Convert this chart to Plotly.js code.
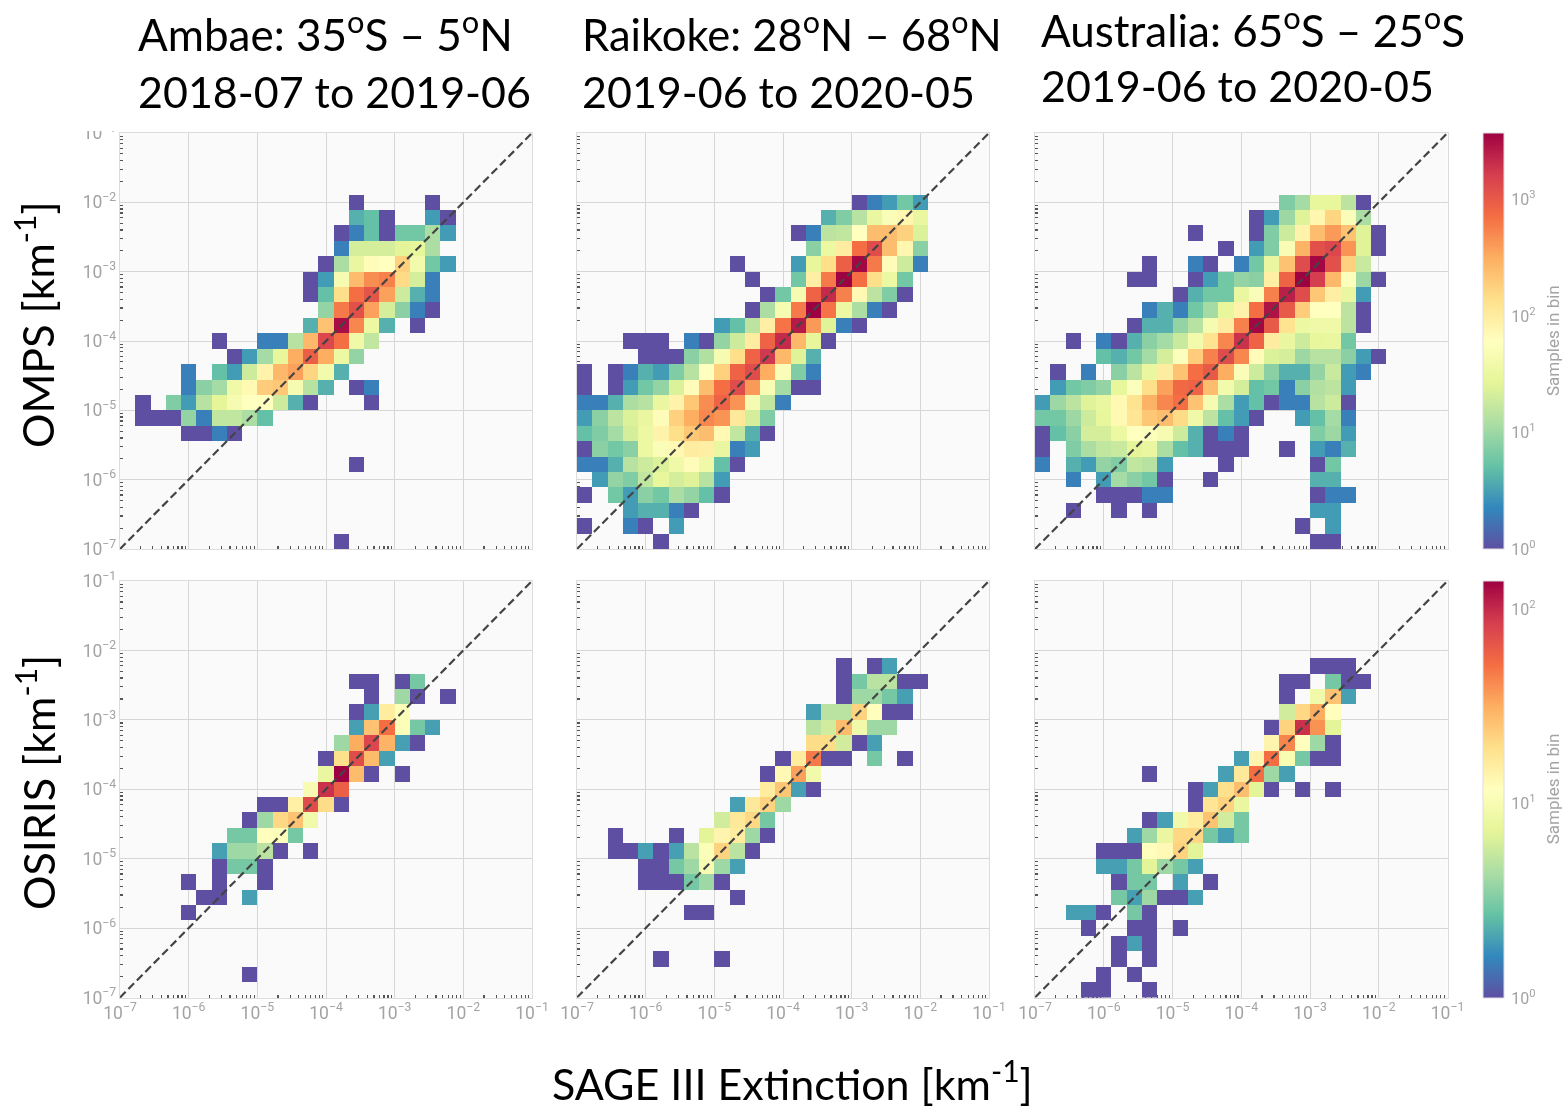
<!DOCTYPE html>
<html>
<head>
<meta charset="utf-8">
<script src="https://cdn.plot.ly/plotly-3.0.1.min.js"></script>
<style>html,body{margin:0;padding:0;background:#fff}#chart{width:1564px;height:1109px}
.cartesianlayer,.colorbar{filter:blur(0.5px)}</style>
</head>
<body>
<div id="chart"></div>
<script>
// Samples per bin, top row of bins first; each row maps bin column -> count
const ambaeOmps = [{},{},{},{},
{15:1,20:1},
{15:4,16:5,17:1,20:3,21:1},
{14:1,15:2,16:5,17:1,18:6,19:6,20:12,21:3},
{14:2,15:21,16:21,17:21,18:26,19:29,20:12},
{13:1,14:12,15:32,16:66,17:61,18:178,19:40,20:6,21:3},
{12:1,13:3,14:44,15:250,16:480,17:560,18:150,19:21,20:2},
{12:1,13:5,14:139,15:720,16:1090,17:372,18:19,19:4,20:2},
{13:9,14:610,15:1180,16:372,17:21,18:8,19:2,20:1},
{12:4,13:228,14:3170,15:517,16:33,17:4,19:1},
{6:1,9:2,10:2,11:14,12:268,13:1390,14:720,15:37,16:16},
{7:1,8:3,9:11,10:29,11:316,12:920,13:316,14:34,15:9},
{4:2,6:5,7:3,8:19,9:85,10:268,11:372,12:164,13:40,14:4},
{4:2,5:8,6:11,7:37,8:72,9:193,10:206,11:44,12:14,13:4,15:1,16:2},
{1:1,3:7,4:3,5:14,6:27,7:44,8:61,9:61,10:19,11:4,12:1,16:1},
{1:1,2:1,3:1,4:9,5:2,6:16,7:16,8:12,9:5},
{4:1,5:1,6:2,7:1},
{},
{15:1},
{},{},{},{},
{14:1}];

const raikokeOmps = [{},{},{},{},
{18:1,19:2,20:3,21:6,22:3},
{16:4,17:7,18:14,19:32,20:52,21:78,22:32},
{14:1,15:2,16:15,17:16,18:61,19:247,20:247,21:178,22:23},
{15:8,16:34,17:100,18:720,19:1280,20:247,21:78,22:8},
{10:1,14:3,15:29,16:139,17:920,18:3440,19:610,20:66,21:19,22:2},
{11:1,14:6,15:92,16:610,17:3700,18:720,19:139,20:34,21:6},
{12:1,13:6,14:44,15:848,16:2100,17:560,18:72,19:15,20:7,21:1},
{11:1,12:12,13:44,14:610,15:3700,16:662,17:34,18:12,19:2,20:1},
{9:3,10:5,11:15,12:92,13:662,14:2690,15:404,16:25,17:2,18:1},
{3:1,4:1,5:1,7:2,8:1,9:9,10:19,11:100,12:848,13:2100,14:268,15:29,16:1},
{4:1,5:1,6:1,7:8,8:13,9:44,10:139,11:848,12:1780,13:268,14:25,15:4},
{0:1,2:1,3:2,4:4,5:3,6:7,7:14,8:61,9:178,10:848,11:1280,12:316,13:52,14:7,15:2},
{0:1,2:1,3:3,4:6,5:9,6:23,7:66,8:247,9:720,10:1280,11:404,12:48,13:11,14:1,15:1},
{0:2,1:2,2:4,3:12,4:14,5:32,6:85,7:210,8:476,9:848,10:439,11:44,12:16,13:2},
{0:3,1:8,2:15,3:23,4:32,5:66,6:178,7:316,8:517,9:439,10:108,11:21,12:7},
{0:5,1:7,2:11,3:21,4:34,5:85,6:139,7:210,8:247,9:72,10:16,11:4,12:1},
{0:1,1:8,2:6,3:8,4:34,5:52,6:72,7:100,8:92,9:32,10:2,11:3},
{0:2,1:2,2:4,3:14,4:19,5:23,6:37,7:66,8:37,9:5,10:1},
{1:3,2:9,3:7,4:16,5:29,6:21,7:25,8:14,9:3},
{0:1,2:6,3:3,4:8,5:6,6:12,7:9,8:5,9:1},
{3:3,4:4,5:4,6:2,7:1},
{0:1,3:2,4:1,6:3},
{5:1}];

const australiaOmps = [{},{},{},{},
{16:7,17:11,18:29,19:29,20:15,21:1},
{14:1,15:3,16:10,17:25,18:78,19:164,20:52,21:12},
{10:1,14:1,15:7,16:19,17:85,18:247,19:404,20:228,21:25,22:1},
{12:1,14:3,15:7,16:48,17:291,18:1180,19:1390,20:439,21:25,22:1},
{7:1,10:2,11:1,13:2,14:6,15:32,16:228,17:1280,18:3440,19:1180,20:178,21:18},
{6:1,7:1,10:1,11:3,12:6,13:9,14:8,15:92,16:848,17:3700,18:1640,19:268,20:56,21:10,22:1},
{9:1,10:4,11:6,12:6,13:32,14:52,15:560,16:2470,17:1280,18:210,19:92,20:32,21:3},
{7:2,8:4,9:2,10:6,11:11,12:29,13:85,14:720,15:2920,16:1000,17:193,18:61,19:61,20:15,21:1},
{6:1,7:4,8:4,9:9,10:14,11:44,12:100,13:560,14:3440,15:1000,16:128,17:34,18:37,19:37,20:15,21:1},
{2:1,4:2,5:1,6:4,7:8,8:11,9:18,10:40,11:128,12:517,13:1930,14:848,15:100,16:32,17:19,18:29,19:32,20:6},
{4:5,5:4,6:6,7:11,8:21,9:56,10:193,11:560,12:1280,13:517,14:66,15:23,16:21,17:10,18:14,19:14,20:8,21:3,22:1},
{1:1,3:2,5:8,6:15,7:32,8:100,9:228,10:720,11:1000,12:316,13:52,14:19,15:8,16:4,17:4,18:9,19:18,20:3,21:2},
{1:3,2:6,3:7,4:9,5:29,6:56,7:139,8:372,9:780,10:848,11:247,12:40,13:21,14:5,15:6,16:2,17:8,18:13,19:15,20:3},
{0:3,1:10,2:15,3:25,4:32,5:72,6:128,7:291,8:517,9:720,10:228,11:44,12:12,13:3,14:5,15:1,16:2,17:2,18:14,19:19,20:1},
{0:6,1:6,2:10,3:19,4:29,5:72,6:118,7:210,8:247,9:151,10:37,11:15,12:5,13:3,14:1,17:3,18:5,19:11,20:2},
{0:1,1:5,2:8,3:21,4:21,5:34,6:61,7:56,8:44,9:19,10:4,11:1,12:2,13:1,18:7,19:10,20:3},
{0:1,2:7,3:12,4:16,5:18,6:27,7:32,8:12,9:5,10:4,11:1,12:1,13:1,16:1,18:3,19:2,20:4},
{0:2,2:4,3:3,4:9,5:7,6:16,7:14,8:3,12:1,18:1,19:6},
{2:2,4:3,5:11,6:8,7:6,8:1,11:1,18:4,19:4},
{4:1,5:1,6:1,7:2,8:2,18:1,19:2,20:2},
{2:1,5:1,7:1,18:3,19:3},
{17:1,19:3},
{18:1,19:1}];

const ambaeOsiris = [{},{},{},{},{},{},
{15:1,16:1,18:1,19:3},
{16:1,18:4,19:1,21:1},
{15:1,16:2,17:16,18:11},
{15:2,16:26,17:52,18:11,19:3,20:2},
{14:4,15:32,16:77,17:30,18:2,19:1},
{13:1,14:19,15:73,16:28,17:2},
{13:8,14:139,15:28,16:1,18:1},
{12:10,13:94,14:60},
{9:1,10:1,11:15,12:73,13:20,14:1},
{8:1,9:4,10:21,11:26,12:9},
{7:3,8:3,9:12,10:11,11:3},
{6:2,7:4,8:4,9:5,10:1,12:1},
{6:1,7:3,8:3,9:1},
{4:1,6:1,9:1},
{5:1,6:1,8:2},
{4:1},
{},{},{},
{8:1},
{}];

const raikokeOsiris = [{},{},{},{},{},
{17:1,19:1,20:2},
{17:1,18:3,19:5,20:5,21:1,22:1},
{17:1,18:4,19:4,20:3,21:2},
{15:2,16:5,17:5,18:22,19:12,20:1,21:1},
{15:5,16:6,17:28,18:9,19:4,20:4},
{15:20,16:20,17:6,18:1,19:2},
{13:1,14:16,15:47,16:1,17:1,19:3,21:1},
{12:1,13:13,14:35,15:9},
{12:16,13:25,14:2,15:1},
{10:2,11:17,12:22,13:4},
{9:6,10:17,11:21,12:3},
{2:1,6:1,8:7,9:14,10:16,11:4,12:1},
{2:1,3:1,4:2,5:1,6:2,7:5,8:11,9:22,10:5,11:1},
{4:1,5:1,6:3,7:4,8:10,9:4,10:2},
{4:1,5:1,6:1,7:3,8:4,9:1},
{10:1},
{7:1,8:1},
{},{},
{5:1,9:1},
{},{}];

const australiaOsiris = [{},{},{},{},{},
{18:1,19:1,20:1},
{16:1,17:1,19:3,20:1,21:1},
{16:1,18:9,19:26,20:2},
{16:6,17:21,18:32,19:12},
{15:1,16:22,17:94,18:39,19:7},
{15:14,16:43,17:12,18:4,19:1},
{13:2,14:14,15:52,16:10,17:3,18:1,19:1},
{7:1,12:2,13:17,14:52,15:4,16:2},
{10:1,11:2,12:19,13:27,14:7,15:1,17:1,19:1},
{10:1,11:18,12:22,13:8},
{7:1,8:2,9:9,10:16,11:26,12:6,13:3},
{6:2,7:4,8:8,9:21,10:21,11:3,12:2,13:3},
{4:1,5:1,6:1,7:12,8:13,9:22,10:7},
{4:2,5:2,6:3,7:7,8:4,9:3,10:2},
{5:1,6:3,7:3,9:2,11:1},
{5:3,6:2,7:4,8:1,9:1,10:2},
{2:2,3:2,4:1,6:3,7:1},
{3:1,6:1,7:1,9:1},
{5:1,6:2,7:1},
{5:1,7:1},
{4:1,6:1},
{3:1,4:1,7:1}];

const titleLines = [
  ['Ambae: 35<sup>o</sup>S – 5<sup>o</sup>N','2018-07 to 2019-06'],
  ['Raikoke: 28<sup>o</sup>N – 68<sup>o</sup>N','2019-06 to 2020-05'],
  ['Australia: 65<sup>o</sup>S – 25<sup>o</sup>S','2019-06 to 2020-05']
];
const rowTitles = ['OMPS [km<sup>-1</sup>]','OSIRIS [km<sup>-1</sup>]'];
const xTitle = 'SAGE III Extinction [km<sup>-1</sup>]';
const barTitle = 'Samples in bin';
const spectralColors = ['#5e4fa2','#3288bd','#66c2a5','#abdda4','#e6f598','#ffffbf','#fee08b','#fdae61','#f46d43','#d53e4f','#9e0142'];
const logRange = [-7,-1];
const nBins = 27;
const colorTop = [3.57, 2.144];
const barTicks = [[0,1,2,3],[0,1,2]];

const W = 1564, H = 1109;
const px = x => x / W, py = y => 1 - y / H;
const colX = [[120,532],[577,989],[1035,1447.5]];
const rowY = [[133,549],[581,997.5]];
const panels = [[ambaeOmps,raikokeOmps,australiaOmps],[ambaeOsiris,raikokeOsiris,australiaOsiris]];

const edges = [];
for (let k = 0; k <= nBins; k++) edges.push(Math.pow(10, logRange[0] + k * (logRange[1]-logRange[0]) / nBins));
const colorscale = spectralColors.map((c,i) => [i/(spectralColors.length-1), c]);
const greyText = '#a3a3a3';

const traces = [];
const layout = {
  width: W, height: H, paper_bgcolor: '#fff', plot_bgcolor: '#fafafa',
  margin: {l:0,r:0,t:0,b:0}, showlegend: false,
  font: {family: 'Roboto, sans-serif', color: greyText},
  shapes: [{type:'rect',xref:'paper',yref:'paper',x0:0,x1:px(118),y0:py(131),y1:1,fillcolor:'#fff',line:{width:0},layer:'above'}],
  annotations: []
};

function axisBase(showLabels) {
  return {
    type:'log', range:logRange, dtick:1, exponentformat:'power',
    showgrid:true, gridcolor:'#d6d6d6', gridwidth:1, zeroline:false,
    showline:true, linecolor:'#dcdcdc', linewidth:1, mirror:true,
    ticks:'', showticklabels:showLabels, layer:'below traces',
    tickfont:{family:'Roboto, sans-serif', size:14, color:greyText},
    minor:{ticks:'inside', ticklen:3, tickwidth:1.2, tickcolor:'#555', dtick:'D1', showgrid:false}
  };
}

panels.forEach((row, r) => row.forEach((rows, c) => {
  const id = r*3 + c + 1, sfx = id === 1 ? '' : id;
  layout['xaxis'+sfx] = Object.assign(axisBase(r === 1), {domain:[px(colX[c][0]),px(colX[c][1])], anchor:'y'+sfx});
  layout['yaxis'+sfx] = Object.assign(axisBase(c === 0), {domain:[py(rowY[r][1]),py(rowY[r][0])], anchor:'x'+sfx});
  const z = [];
  for (let i = nBins-1; i >= 0; i--) {
    const src = rows[i] || {}, line = [];
    for (let j = 0; j < nBins; j++) line.push(src[j] ? Math.log10(src[j]) : null);
    z.push(line);
  }
  const t = {
    type:'heatmap', x:edges, y:edges, z:z, xaxis:'x'+sfx, yaxis:'y'+sfx,
    colorscale:colorscale, zmin:0, zmax:colorTop[r], hoverinfo:'skip', showscale:c === 2
  };
  if (c === 2) t.colorbar = {
    x:px(1483), xanchor:'left', xpad:0, y:py(rowY[r][0]), yanchor:'top', ypad:0,
    lenmode:'pixels', len:rowY[r][1]-rowY[r][0], thicknessmode:'pixels', thickness:21,
    outlinecolor:'#dedede', outlinewidth:1, ticks:'outside', ticklen:4, tickcolor:'rgba(0,0,0,0)',
    tickvals:barTicks[r], ticktext:barTicks[r].map(v => '10<sup>'+v+'</sup>'),
    tickfont:{family:'Roboto, sans-serif', size:16, color:greyText}
  };
  traces.push(t);
  traces.push({
    type:'scatter', mode:'lines', x:[edges[0],edges[nBins]], y:[edges[0],edges[nBins]],
    xaxis:'x'+sfx, yaxis:'y'+sfx, hoverinfo:'skip',
    line:{color:'#444', width:2.2, dash:'8px,4px'}
  });
}));

const note = (text,x,y,size,opt) => layout.annotations.push(Object.assign({
  text, xref:'paper', yref:'paper', x:px(x), y:py(y), xanchor:'left', yanchor:'middle',
  showarrow:false, font:{family:'Lato, sans-serif', size, color:'#000'}
}, opt||{}));

const titleX = [136,580,1039], titleY = [[32,91],[32,91],[27,85]];
const titleSize = [[44,43],[43.5,43],[44,43]];
titleLines.forEach((lines,c) => lines.forEach((txt,l) => note(txt, titleX[c], titleY[c][l], titleSize[c][l])));
note(rowTitles[0], 35, 325, 43, {textangle:-90, xanchor:'center'});
note(rowTitles[1], 35, 783, 43, {textangle:-90, xanchor:'center'});
note(xTitle, 792, 1080, 43, {xanchor:'center'});
rowY.forEach((ry) => note(barTitle, 1553, (ry[0]+ry[1])/2, 17, {
  textangle:-90, xanchor:'center', font:{family:'Roboto, sans-serif', size:17, color:greyText}
}));

Plotly.newPlot('chart', traces, layout, {displayModeBar:false, staticPlot:true});
</script>
</body>
</html>
